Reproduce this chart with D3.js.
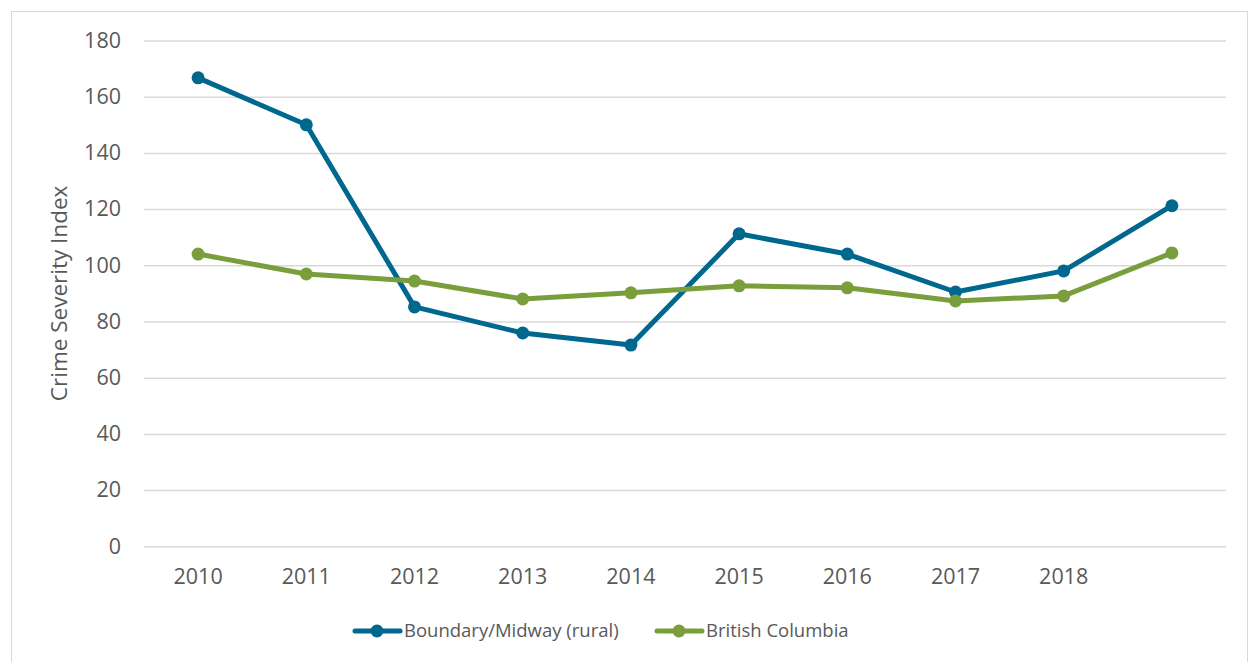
<html>
<head>
  <script src="https://cdnjs.cloudflare.com/ajax/libs/d3/7.8.5/d3.min.js"></script>
  <style>
    body { margin: 0; background: #fff; }
    text { font-family: "Open Sans", Lato, sans-serif; fill: #595959; }
  </style>
</head>
<body>
  <script>
    // data
    const years = ["2010","2011","2012","2013","2014","2015","2016","2017","2018","2019"];
    const yearLabels = ["2010","2011","2012","2013","2014","2015","2016","2017","2018",""];
    const boundary = [166.7, 150.0, 85.2, 75.9, 71.6, 111.2, 104.0, 90.5, 98.0, 121.2];
    const bc = [104.0, 96.9, 94.4, 88.0, 90.2, 92.7, 92.0, 87.3, 89.1, 104.4];
    const yTicks = [0, 20, 40, 60, 80, 100, 120, 140, 160, 180];
    const seriesNames = ["Boundary/Midway (rural)", "British Columbia"];
    const colors = ["#00678f", "#7a9e3c"];

    const width = 1248, height = 662;
    const margin = { left: 144, right: 22, top: 40.5, bottom: 115.7 };

    const svg = d3.select( "body" )
      .append( "svg" )
      .attr( "width", width )
      .attr( "height", height );

    svg.append( "rect" )
      .attr( "x", 11.5 ).attr( "y", 11.5 )
      .attr( "width", width - 12 ).attr( "height", height )
      .attr( "fill", "none" )
      .attr( "stroke", "#d9d9d9" );

    const x = d3.scaleBand()
      .domain( years )
      .range( [margin.left, width - margin.right] );

    const y = d3.scaleLinear()
      .domain( [0, 180] )
      .range( [height - margin.bottom, margin.top] );

    // grid
    const yAxis = svg.append( "g" )
      .attr( "transform", `translate(${margin.left},0)` )
      .call( d3.axisLeft( y ).tickValues( yTicks ).tickSize( -(width - margin.right - margin.left) ).tickPadding( 23 ) );
    yAxis.select( ".domain" ).remove();
    yAxis.selectAll( ".tick line" ).attr( "stroke", "#d9d9d9" ).attr( "stroke-width", 1.5 );
    yAxis.selectAll( ".tick text" ).attr( "font-size", 21.5 ).attr( "fill", "#595959" );

    const xAxis = svg.append( "g" )
      .attr( "transform", `translate(0,${height - margin.bottom})` )
      .call( d3.axisBottom( x ).tickSize( 0 ).tickPadding( 22 ).tickFormat( ( d, i ) => yearLabels[i] ) );
    xAxis.select( ".domain" ).remove();
    xAxis.selectAll( ".tick text" ).attr( "font-size", 21.5 ).attr( "fill", "#595959" );

    svg.append( "text" )
      .attr( "transform", `translate(67,${(y(0) + y(180)) / 2}) rotate(-90)` )
      .attr( "text-anchor", "middle" )
      .attr( "font-size", 22.5 )
      .text( "Crime Severity Index" );

    const line = d3.line()
      .x( ( d, i ) => x( years[i] ) + x.bandwidth() / 2 )
      .y( d => y( d ) );

    [boundary, bc].forEach( ( data, k ) => {
      const g = svg.append( "g" );
      g.append( "path" )
        .attr( "d", line( data ) )
        .attr( "fill", "none" )
        .attr( "stroke", colors[k] )
        .attr( "stroke-width", 5 )
        .attr( "stroke-linejoin", "round" );
      g.selectAll( "circle" )
        .data( data )
        .enter()
        .append( "circle" )
        .attr( "cx", ( d, i ) => x( years[i] ) + x.bandwidth() / 2 )
        .attr( "cy", d => y( d ) )
        .attr( "r", 6.5 )
        .attr( "fill", colors[k] );
    } );

    // legend
    const legendX = [353, 655];
    seriesNames.forEach( ( name, k ) => {
      const g = svg.append( "g" ).attr( "transform", `translate(${legendX[k]},631)` );
      g.append( "line" )
        .attr( "x1", 2 ).attr( "x2", 47 )
        .attr( "stroke", colors[k] ).attr( "stroke-width", 5 ).attr( "stroke-linecap", "round" );
      g.append( "circle" ).attr( "cx", 24 ).attr( "r", 6.5 ).attr( "fill", colors[k] );
      g.append( "text" )
        .attr( "x", 51 ).attr( "dy", "0.35em" )
        .attr( "font-size", 18.5 )
        .text( name );
    } );
  </script>
</body>
</html>
